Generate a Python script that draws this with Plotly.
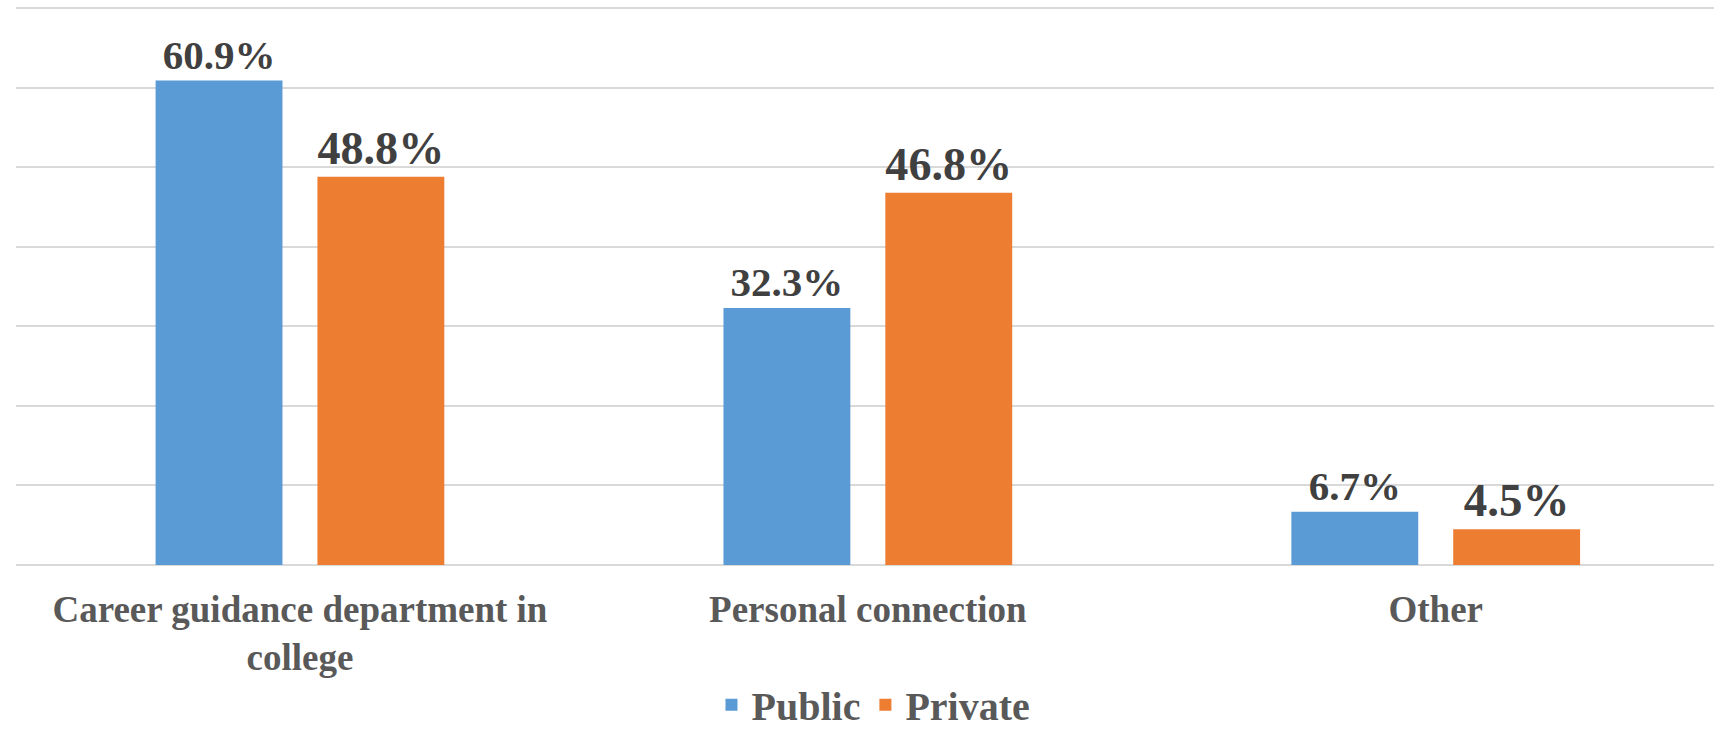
import plotly.graph_objects as go

categories = ["Career guidance department in<br>college", "Personal connection", "Other"]
public_vals = [60.9, 32.3, 6.7]
private_vals = [48.8, 46.8, 4.5]
series_names = ["Public", "Private"]
y_ticks = [0, 10, 20, 30, 40, 50, 60, 70]

FONT = "Liberation Serif"

fig = go.Figure()
fig.add_trace(go.Bar(
    x=categories, y=public_vals, name=series_names[0],
    marker=dict(color="#5B9BD5", line=dict(width=0)),
    texttemplate="%{y:.1f}%", textposition="outside",
    textfont=dict(family=FONT, size=41, color="#404040", weight="bold"),
    cliponaxis=False,
))
fig.add_trace(go.Bar(
    x=categories, y=private_vals, name=series_names[1],
    marker=dict(color="#ED7D31", line=dict(width=0)),
    texttemplate="%{y:.1f}%", textposition="outside",
    textfont=dict(family=FONT, size=47, color="#404040", weight="bold"),
    cliponaxis=False,
))

fig.update_layout(
    width=1714, height=731,
    margin=dict(l=16, r=0, t=7, b=166, autoexpand=False),
    paper_bgcolor="white", plot_bgcolor="white",
    barmode="group", bargap=0.43, bargroupgap=0.216,
    legend=dict(
        orientation="h", x=0.505, xanchor="center",
        yref="container", y=0.036, yanchor="middle",
        font=dict(family=FONT, size=40, color="#595959", weight="bold"),
        itemclick=False, bgcolor="rgba(0,0,0,0)",
    ),
    showlegend=True,
)
fig.update_xaxes(
    range=[-0.5, 2.49],
    showgrid=False, showline=False, zeroline=False, ticks="",
    tickfont=dict(family=FONT, size=37, color="#595959", weight="bold"),
    ticklabelstandoff=19,
)
fig.update_yaxes(
    range=[0, 70.15], tickvals=y_ticks, showticklabels=False,
    showgrid=True, gridcolor="#D9D9D9", gridwidth=2,
    zeroline=True, zerolinecolor="#D9D9D9", zerolinewidth=2,
    showline=False,
)

fig.write_html("out.html")
